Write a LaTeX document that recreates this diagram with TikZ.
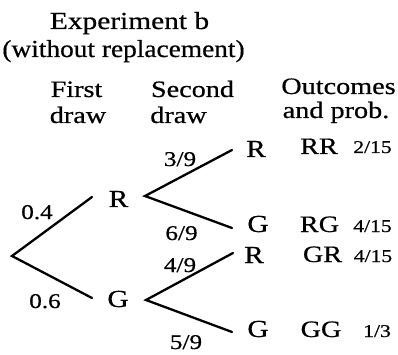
\documentclass[tikz,border=0pt]{standalone}
\usepackage{fontspec}
\setmainfont{Liberation Serif}[FakeStretch=1.2,FakeBold=0.6]
\begin{document}
\begin{tikzpicture}[x=1pt,y=-1pt,
  lbl/.style={anchor=base,inner sep=0pt},
  big/.style={lbl,font=\fontsize{24.5}{24.5}\selectfont},
  head/.style={lbl,font=\fontsize{23.5}{23.5}\selectfont},
  prob/.style={lbl,font=\fontsize{21}{21}\selectfont},
  oprob/.style={lbl,font=\fontsize{18}{18}\selectfont},
  branch/.style={line width=2.3pt,line cap=round}]
\useasboundingbox (0,0) rectangle (398,355);
% titles
\node[big] (t1) at (129.5,29) {Experiment b};
\node[big] (t2) at (123.5,57) {\scalebox{0.93}[1]{(without replacement)}};
\node[head] (h1a) at (76.5,97) {First};
\node[head] (h1b) at (78,123) {draw};
\node[head] (h2a) at (192.5,97) {Second};
\node[head] (h2b) at (178.5,123) {draw};
\node[head] (h3a) at (338.5,94) {Outcomes};
\node[head] (h3b) at (336,118) {and prob.};
% tree labels
\node[big] (R1) at (118.5,207) {R};
\node[big] (G1) at (118,307) {G};
\node[big] (RR2) at (256,157) {R};
\node[big] (RG2) at (258,232) {G};
\node[big] (GR2) at (254,263) {R};
\node[big] (GG2) at (258,337) {G};
% outcomes
\node[head] (oRR) at (319,154) {RR};
\node[oprob] (pRR) at (372.5,153) {2/15};
\node[head] (oRG) at (319.5,232) {RG};
\node[oprob] (pRG) at (372.5,232) {4/15};
\node[head] (oGR) at (322.5,262) {GR};
\node[oprob] (pGR) at (373,262) {4/15};
\node[head] (oGG) at (321,337) {GG};
\node[oprob] (pGG) at (377,337) {1/3};
% branch probabilities
\node[prob] (b04) at (37,219) {0.4};
\node[prob] (b06) at (45,308) {0.6};
\node[prob] (b39) at (180,166) {3/9};
\node[prob] (b69) at (181.5,240) {6/9};
\node[prob] (b49) at (180,272) {4/9};
\node[prob] (b59) at (186,349) {5/9};
% branch points
\coordinate (root) at (12,256);
\coordinate (r1in) at (92,197);
\coordinate (g1in) at (92,298);
\coordinate (r1out) at (145,196);
\coordinate (g1out) at (146,300);
\coordinate (rr) at (232,150);
\coordinate (rg) at (232,228);
\coordinate (gr) at (233,253);
\coordinate (gg) at (232,332);
\draw[branch] (r1in) -- (root) -- (g1in);
\draw[branch] (rr) -- (r1out) -- (rg);
\draw[branch] (gr) -- (g1out) -- (gg);
\end{tikzpicture}
\end{document}
